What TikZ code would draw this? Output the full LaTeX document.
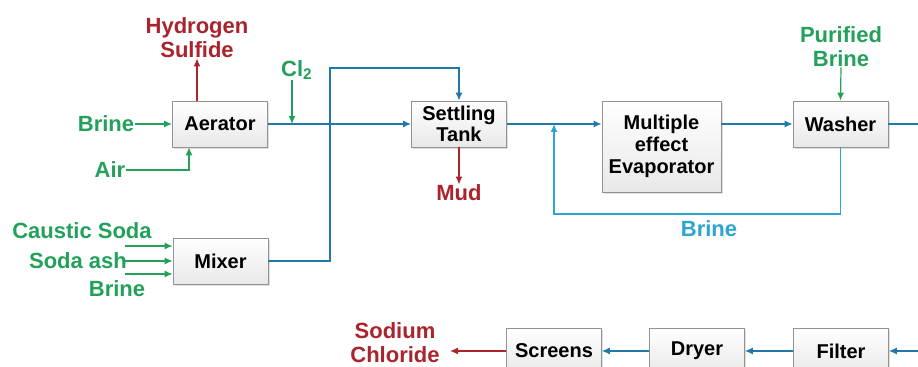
\documentclass[tikz,border=0pt]{standalone}
\usepackage{fontspec}
\setmainfont{Liberation Sans}
\usetikzlibrary{arrows.meta, shadows, positioning}
\definecolor{feedgreen}{RGB}{35,160,90}
\definecolor{wastered}{RGB}{170,35,45}
\definecolor{lineblue}{RGB}{35,120,170}
\definecolor{recyblue}{RGB}{45,165,210}
\tikzset{
	unitbox/.style={draw=gray!85, top color=white, bottom color=gray!18,
		drop shadow={shadow xshift=0.8pt, shadow yshift=-0.8pt, fill=gray!50},
		minimum width=47.5pt, minimum height=23pt, inner sep=1pt, align=center,
		font=\fontsize{10}{10.5}\selectfont\bfseries}
}
\tikzset{
	streamtext/.style={font=\fontsize{11}{12}\selectfont\bfseries, align=center, inner sep=0pt},
	flow/.style={-{Latex[length=4pt,width=3.5pt]}, line width=0.6pt}
}

\begin{document}
\begin{tikzpicture}[x=0.5pt, y=-0.5pt]
      \useasboundingbox (0,0) rectangle (918,367);
      % process units
      \node[unitbox] (aerator) at (220,124) {Aerator};
      \node[unitbox] (settle) at (459,124) {Settling\\Tank};
      \node[unitbox, minimum width=59.5pt, minimum height=45.5pt, font=\fontsize{10}{11}\selectfont\bfseries] (evap) at (661.5,146.5) {Multiple\\effect\\Evaporator};
      \node[unitbox] (washer) at (840.5,124) {Washer};
      \node[unitbox] (mixer) at (220.5,261) {Mixer};
      \node[unitbox] (screens) at (554,351) {Screens};
      \node[unitbox] (dryer) at (697,351) {Dryer};
      \node[unitbox] (filter) at (841,351) {Filter};
      % stream labels
      \node[streamtext, text=wastered] (h2s) at (197,38) {Hydrogen\\Sulfide};
      \node[streamtext, text=feedgreen] (brinein) at (106,124) {Brine};
      \node[streamtext, text=feedgreen] (air) at (110,170) {Air};
      \node[streamtext, text=feedgreen] (cl) at (297,70) {Cl\textsubscript{2}};
      \node[streamtext, text=wastered] (mud) at (459,193) {Mud};
      \node[streamtext, text=recyblue] (brineback) at (709,229) {Brine};
      \node[streamtext, text=feedgreen] (purified) at (841,47) {Purified\\Brine};
      \node[streamtext, text=feedgreen] (caustic) at (82,231) {Caustic Soda};
      \node[streamtext, text=feedgreen] (sodaash) at (78,261) {Soda ash};
      \node[streamtext, text=feedgreen] (brinemix) at (117,289) {Brine};
      \node[streamtext, text=wastered] (nacl) at (395,343) {Sodium\\Chloride};
      \coordinate (topturn) at (330,68);
      \coordinate (recy) at (554,214);
      \coordinate (offedge) at (935,124);
      % feeds
      \draw[flow, feedgreen] (brinein.east) -- (aerator.west);
      \draw[flow, feedgreen] (air.east) -| ([xshift=-15.5pt]aerator.south);
      \draw[flow, feedgreen] (cl.south -| 292,0) -- (292,124);
      \draw[flow, feedgreen] (purified.south) -- (washer.north);
      \foreach \dy in {7.5pt, 0pt, -6.5pt} {
        \draw[flow, feedgreen] ([yshift=\dy, xshift=-24pt]mixer.west) -- ([yshift=\dy]mixer.west);
      }
      % wastes
      \draw[flow, wastered] (aerator.north -| h2s) -- (h2s.south);
      \draw[flow, wastered] (settle.south) -- (mud.north);
      \draw[flow, wastered] (screens.west) -- ([xshift=5pt]nacl.east |- screens.west);
      % main line
      \draw[flow, lineblue] (aerator.east) -- (settle.west);
      \draw[flow, lineblue] (mixer.east) -| (topturn) -| (settle.north);
      \draw[flow, lineblue] (settle.east) -- (settle.east -| evap.west);
      \draw[flow, lineblue] (evap.east |- washer.west) -- (washer.west);
      \draw[flow, recyblue] (washer.south) |- (recy) -- (recy |- settle.east);
      \draw[flow, lineblue] (washer.east) -- (offedge) |- (filter.east);
      \draw[flow, lineblue] (filter.west) -- (dryer.east);
      \draw[flow, lineblue] (dryer.west) -- (screens.east);
    \end{tikzpicture}
\end{document}
